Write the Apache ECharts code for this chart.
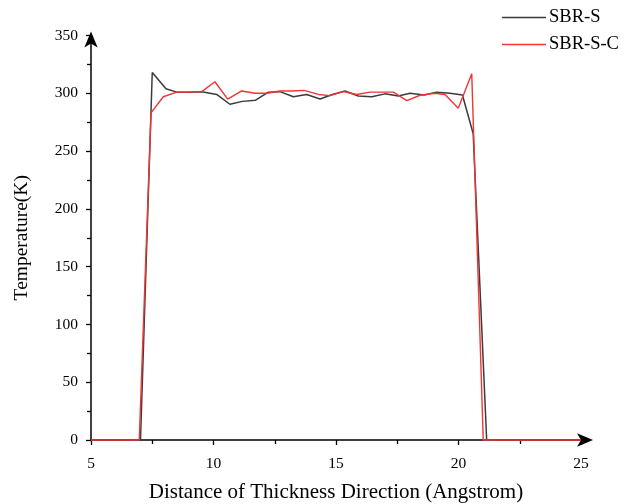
<!DOCTYPE html>
<html>
<head>
<meta charset="utf-8">
<script src="https://cdn.jsdelivr.net/npm/echarts@6/dist/echarts.min.js"></script>
<style>html,body{margin:0;padding:0;background:#fff;}#c{width:632px;height:504px;}</style>
</head>
<body>
<div id="c"></div>
<script>
const seriesNames = ['SBR-S', 'SBR-S-C'];
const xS  = [5.0, 7.02, 7.5, 8.06, 8.5, 9.0, 9.52, 10.13, 10.67, 11.18, 11.72, 12.24, 12.71, 13.26, 13.8, 14.35, 14.85, 15.37, 15.91, 16.46, 17.0, 17.54, 18.02, 18.6, 19.1, 19.65, 20.16, 20.6, 21.15, 25.0];
const yS  = [0, 0, 318, 304, 301, 301, 301.4, 299, 290.5, 293, 294, 301, 301.4, 297, 299, 295, 299, 302, 297.6, 297, 299.5, 297.6, 300, 298.5, 301, 300, 298.5, 265, 0, 0];
const xSC = [5.0, 6.97, 7.45, 7.95, 8.5, 9.0, 9.52, 10.06, 10.58, 11.15, 11.7, 12.2, 12.71, 13.2, 13.7, 14.28, 14.76, 15.3, 15.84, 16.39, 16.9, 17.34, 17.89, 18.43, 19.04, 19.45, 19.99, 20.54, 21.01, 25.0];
const ySC = [0, 0, 283, 297, 301, 301, 301.4, 310, 295, 302, 300, 300, 302, 302, 302.5, 299, 298, 301.5, 299, 301, 301, 301, 293.6, 298.3, 300, 299, 287, 317, 0, 0];
const xTicks = {min: 5, max: 25, interval: 5};
const yTicks = {min: 0, max: 350, interval: 50};

const pair = (xs, ys) => xs.map((x, i) => [x, ys[i]]);
const font = '"Liberation Serif", "Times New Roman", serif';
const colors = ['#3b3b3b', '#f23434'];
const chart = echarts.init(document.getElementById('c'), null, {renderer: 'canvas'});
chart.setOption({
  animation: false,
  backgroundColor: '#fff',
  textStyle: {fontFamily: font},
  grid: {left: 91, right: 51, top: 35.5, bottom: 64, containLabel: false, outerBoundsMode: 'none'},
  legend: {
    orient: 'vertical', left: 497, top: 3, itemWidth: 44, itemHeight: 1.5, itemGap: 8,
    icon: 'rect',
    textStyle: {fontFamily: font, fontSize: 18.5, color: '#000', padding: [0, 0, 0, -2]},
    data: seriesNames
  },
  xAxis: {
    type: 'value', min: xTicks.min, max: xTicks.max, interval: xTicks.interval,
    name: 'Distance of Thickness Direction (Angstrom)', nameLocation: 'middle', nameGap: 42,
    nameTextStyle: {fontFamily: font, fontSize: 21, color: '#000'},
    axisLine: {show: true, onZero: false, lineStyle: {color: '#000', width: 1.5}, symbol: ['none', 'arrow'], symbolSize: [10, 16], symbolOffset: [0, 12]},
    axisTick: {show: true, inside: false, length: 5, lineStyle: {color: '#000', width: 1.3}},
    minorTick: {show: true, splitNumber: 2, length: 4, lineStyle: {color: '#000', width: 1.3}},
    axisLabel: {fontFamily: font, fontSize: 15.5, color: '#000', margin: 16},
    splitLine: {show: false}
  },
  yAxis: {
    type: 'value', min: yTicks.min, max: yTicks.max, interval: yTicks.interval,
    name: 'Temperature(K)', nameLocation: 'middle', nameGap: 59, nameRotate: 90,
    nameTextStyle: {fontFamily: font, fontSize: 19.5, color: '#000'},
    axisLine: {show: true, onZero: false, lineStyle: {color: '#000', width: 1.5}, symbol: ['none', 'arrow'], symbolSize: [10, 16], symbolOffset: [0, 4]},
    axisTick: {show: true, inside: false, length: 5, lineStyle: {color: '#000', width: 1.3}},
    minorTick: {show: true, splitNumber: 2, length: 4, lineStyle: {color: '#000', width: 1.3}},
    axisLabel: {fontFamily: font, fontSize: 15.5, color: '#000', margin: 13},
    splitLine: {show: false}
  },
  series: [
    {name: seriesNames[0], type: 'line', data: pair(xS, yS), symbol: 'none', clip: false,
     lineStyle: {color: colors[0], width: 1.5}, itemStyle: {color: colors[0]}, z: 3},
    {name: seriesNames[1], type: 'line', data: pair(xSC, ySC), symbol: 'none', clip: false,
     lineStyle: {color: colors[1], width: 1.4}, itemStyle: {color: colors[1]}, z: 4}
  ]
});
</script>
</body>
</html>
